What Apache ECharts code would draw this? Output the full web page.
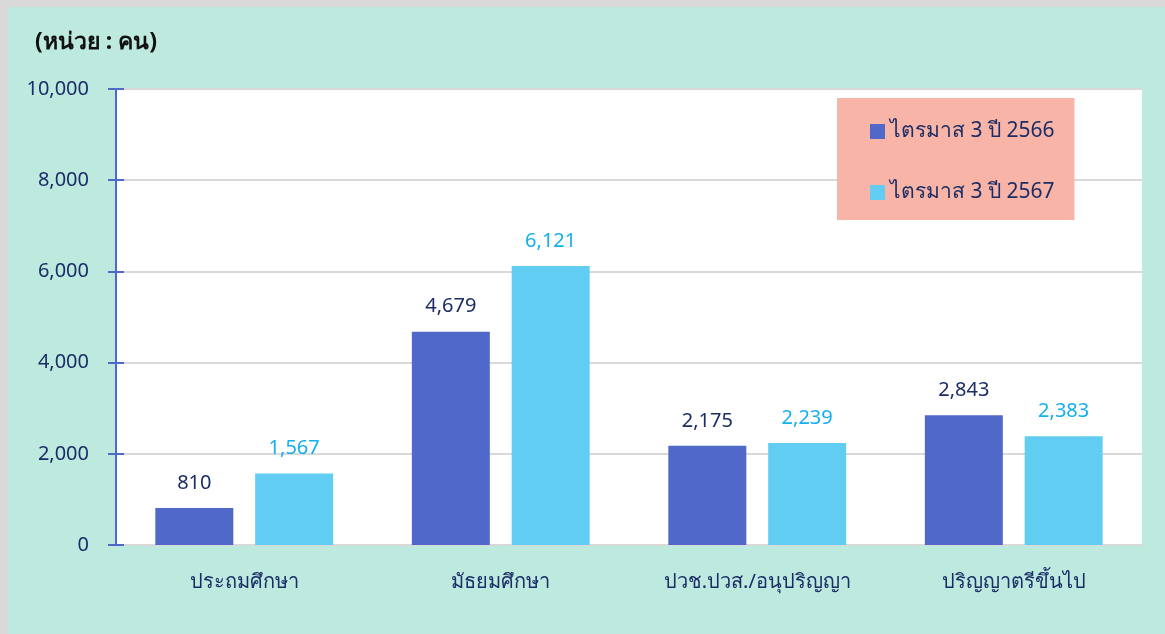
<!DOCTYPE html>
<html>
<head>
<meta charset="utf-8">
<script src="https://cdn.jsdelivr.net/npm/echarts@6/dist/echarts.min.js"></script>
<style>
html, body { margin: 0; padding: 0; }
#chart { width: 1165px; height: 634px; }
</style>
</head>
<body>
<div id="chart"></div>
<script>
const categories = ['ประถมศึกษา', 'มัธยมศึกษา', 'ปวช.ปวส./อนุปริญญา', 'ปริญญาตรีขึ้นไป']
const series2566 = [810, 4679, 2175, 2843]
const series2567 = [1567, 6121, 2239, 2383]
const seriesNames = ['ไตรมาส 3 ปี 2566', 'ไตรมาส 3 ปี 2567']

const darkBlue = '#5068c8'
const lightBlue = '#61cdf3'
const navy = '#1b2d66'
const font = '"Noto Sans", "Noto Sans CJK SC", sans-serif'

const myChart = echarts.init(document.getElementById('chart'))

const option = {
    backgroundColor: '#bde9df',
    textStyle: { fontFamily: font },
    title: {
        text: '(หน่วย : คน)',
        left: 30,
        top: 26,
        textStyle: { fontSize: 23, fontWeight: 'bold', color: '#111', fontFamily: font }
    },
    graphic: [
        { type: 'rect', shape: { x: 0, y: 0, width: 1165, height: 7 }, style: { fill: '#d9d9d9' }, z: 100 },
        { type: 'rect', shape: { x: 0, y: 0, width: 8, height: 634 }, style: { fill: '#d9d9d9' }, z: 100 }
    ],
    legend: {
        data: seriesNames,
        orient: 'vertical',
        left: 837,
        top: 98,
        backgroundColor: '#f8b4a6',
        padding: [23, 20, 17, 33],
        itemGap: 40,
        itemWidth: 15,
        itemHeight: 15,
        icon: 'rect',
        textStyle: { fontSize: 21, color: navy, fontFamily: font }
    },
    grid: {
        left: 116,
        right: 23,
        top: 89,
        bottom: 89,
        containLabel: false,
        show: true,
        backgroundColor: '#ffffff',
        borderWidth: 0
    },
    xAxis: {
        type: 'category',
        data: categories,
        axisLine: { lineStyle: { color: '#d9d9d9', width: 2 } },
        axisTick: { show: false },
        axisLabel: { color: navy, fontSize: 20, margin: 27 }
    },
    yAxis: [
        {
            type: 'value',
            min: 0,
            max: 10000,
            interval: 2000,
            axisLine: { show: true, lineStyle: { color: darkBlue, width: 2 } },
            axisTick: { show: true, length: 8, lineStyle: { color: darkBlue, width: 2 } },
            axisLabel: {
                color: navy,
                fontSize: 20,
                margin: 27,
                formatter: v => v.toLocaleString('en-US')
            },
            splitLine: { lineStyle: { color: '#d9d9d9', width: 2 } }
        },
        {
            type: 'value',
            position: 'left',
            min: 0,
            max: 10000,
            interval: 2000,
            axisLine: { show: false },
            axisTick: { show: true, inside: true, length: 8, lineStyle: { color: darkBlue, width: 2 } },
            axisLabel: { show: false },
            splitLine: { show: false }
        }
    ],
    series: [
        {
            name: seriesNames[0],
            type: 'bar',
            data: series2566,
            barWidth: 78,
            barGap: '28%',
            itemStyle: { color: darkBlue },
            label: {
                show: true,
                position: 'top',
                distance: 15,
                color: navy,
                fontSize: 20,
                formatter: p => p.value.toLocaleString('en-US')
            }
        },
        {
            name: seriesNames[1],
            type: 'bar',
            data: series2567,
            barWidth: 78,
            itemStyle: { color: lightBlue },
            label: {
                show: true,
                position: 'top',
                distance: 15,
                color: '#14afef',
                fontSize: 20,
                formatter: p => p.value.toLocaleString('en-US')
            }
        }
    ]
}

option && myChart.setOption(option)
</script>
</body>
</html>
